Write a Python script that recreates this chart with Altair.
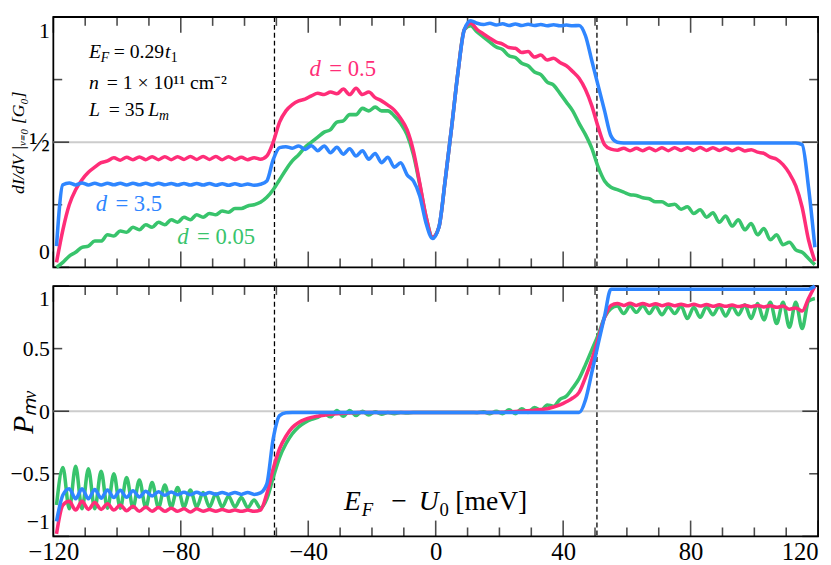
import altair as alt
import pandas as pd

# ---------------- data ----------------
X = list(range(-119, 120, 2))  # E_F - U_0 grid [meV]

TOP_BLUE = [
    0.085, 0.33, 0.337, 0.329, 0.337, 0.329, 0.336, 0.329, 0.336, 0.330,
    0.336, 0.329, 0.336, 0.330, 0.336, 0.329, 0.336, 0.330, 0.335, 0.329,
    0.335, 0.329, 0.335, 0.329, 0.335, 0.328, 0.334, 0.328, 0.334, 0.328,
    0.333, 0.328, 0.332, 0.345, 0.43, 0.478, 0.482, 0.476, 0.485, 0.471,
    0.486, 0.466, 0.485, 0.458, 0.48, 0.452, 0.474, 0.445, 0.466, 0.432,
    0.455, 0.418, 0.44, 0.40, 0.418, 0.37, 0.345, 0.285, 0.175, 0.115,
    0.16, 0.35, 0.56, 0.78, 0.95, 0.985, 0.975, 0.97, 0.975, 0.968,
    0.973, 0.966, 0.972, 0.966, 0.971, 0.966, 0.970, 0.965, 0.969, 0.965,
    0.968, 0.965, 0.966, 0.925, 0.825, 0.725, 0.625, 0.525, 0.50, 0.497,
    0.497, 0.497, 0.497, 0.497, 0.497, 0.497, 0.497, 0.497, 0.497, 0.497,
    0.497, 0.497, 0.497, 0.497, 0.497, 0.497, 0.497, 0.497, 0.497, 0.497,
    0.497, 0.497, 0.497, 0.497, 0.497, 0.497, 0.497, 0.49, 0.32, 0.08,
]
TOP_PINK = [
    0.02, 0.15, 0.25, 0.31, 0.35, 0.38, 0.40, 0.418, 0.425, 0.438,
    0.428, 0.44, 0.43, 0.441, 0.43, 0.442, 0.43, 0.442, 0.43, 0.442,
    0.431, 0.443, 0.431, 0.443, 0.431, 0.443, 0.43, 0.442, 0.43, 0.44,
    0.43, 0.438, 0.432, 0.445, 0.50, 0.58, 0.625, 0.65, 0.665, 0.672,
    0.685, 0.695, 0.69, 0.70, 0.693, 0.712, 0.69, 0.715, 0.69, 0.70,
    0.678, 0.665, 0.648, 0.628, 0.595, 0.55, 0.465, 0.335, 0.20, 0.12,
    0.16, 0.35, 0.56, 0.78, 0.95, 0.975, 0.95, 0.932, 0.915, 0.90,
    0.892, 0.878, 0.875, 0.858, 0.862, 0.84, 0.848, 0.828, 0.835, 0.818,
    0.805, 0.782, 0.755, 0.71, 0.645, 0.56, 0.49, 0.472, 0.468, 0.476,
    0.466, 0.476, 0.466, 0.477, 0.466, 0.478, 0.466, 0.478, 0.467, 0.478,
    0.467, 0.479, 0.467, 0.478, 0.467, 0.477, 0.466, 0.476, 0.465, 0.47,
    0.46, 0.455, 0.44, 0.432, 0.41, 0.375, 0.325, 0.24, 0.11, 0.025,
]
TOP_GREEN = [
    0.0, 0.02, 0.045, 0.06, 0.08, 0.085, 0.105, 0.105, 0.13, 0.125,
    0.145, 0.14, 0.16, 0.15, 0.17, 0.16, 0.18, 0.17, 0.19, 0.18,
    0.20, 0.19, 0.21, 0.20, 0.215, 0.21, 0.225, 0.22, 0.235, 0.235,
    0.245, 0.25, 0.26, 0.28, 0.31, 0.35, 0.39, 0.425, 0.45, 0.48,
    0.50, 0.52, 0.54, 0.55, 0.58, 0.585, 0.61, 0.61, 0.635, 0.625,
    0.64, 0.625, 0.625, 0.605, 0.575, 0.53, 0.45, 0.33, 0.20, 0.12,
    0.16, 0.35, 0.56, 0.78, 0.95, 0.965, 0.94, 0.92, 0.90, 0.88,
    0.87, 0.845, 0.838, 0.815, 0.805, 0.78, 0.77, 0.74, 0.728, 0.695,
    0.66, 0.625, 0.575, 0.53, 0.475, 0.40, 0.345, 0.32, 0.31, 0.30,
    0.29, 0.287, 0.278, 0.274, 0.262, 0.262, 0.248, 0.252, 0.232, 0.242,
    0.215, 0.23, 0.20, 0.218, 0.18, 0.205, 0.165, 0.19, 0.15, 0.175,
    0.13, 0.155, 0.11, 0.13, 0.09, 0.10, 0.07, 0.06, 0.035, 0.01,
]
BOT_BLUE = [
    -0.88, -0.67, -0.62, -0.70, -0.62, -0.70, -0.625, -0.695, -0.63, -0.69,
    -0.632, -0.688, -0.635, -0.685, -0.64, -0.678, -0.643, -0.672, -0.645, -0.668,
    -0.648, -0.668, -0.648, -0.666, -0.65, -0.665, -0.65, -0.665, -0.65, -0.665,
    -0.65, -0.665, -0.652, -0.58, -0.22, -0.035, -0.012, -0.01, -0.01, -0.01,
    -0.01, -0.01, -0.01, -0.01, -0.01, -0.01, -0.01, -0.01, -0.01, -0.01,
    -0.01, -0.01, -0.01, -0.01, -0.01, -0.01, -0.01, -0.01, -0.01, -0.01,
    -0.01, -0.01, -0.01, -0.01, -0.01, -0.01, -0.01, -0.01, -0.01, -0.01,
    -0.01, -0.01, -0.01, -0.01, -0.01, -0.01, -0.01, -0.01, -0.01, -0.01,
    -0.01, -0.01, -0.01, 0.09, 0.31, 0.54, 0.76, 0.975, 0.975, 0.975,
    0.975, 0.975, 0.975, 0.975, 0.975, 0.975, 0.975, 0.975, 0.975, 0.975,
    0.975, 0.975, 0.975, 0.975, 0.975, 0.975, 0.975, 0.975, 0.975, 0.975,
    0.975, 0.975, 0.975, 0.975, 0.975, 0.975, 0.975, 0.975, 0.975, 1.0,
]
BOT_PINK = [
    -0.98, -0.75, -0.72, -0.79, -0.72, -0.785, -0.73, -0.785, -0.74, -0.79,
    -0.75, -0.795, -0.76, -0.80, -0.765, -0.80, -0.77, -0.80, -0.775, -0.80,
    -0.78, -0.805, -0.78, -0.80, -0.785, -0.80, -0.785, -0.80, -0.79, -0.80,
    -0.79, -0.80, -0.79, -0.66, -0.46, -0.30, -0.20, -0.13, -0.09, -0.065,
    -0.05, -0.04, -0.032, -0.025, -0.02, -0.016, -0.014, -0.012, -0.01, -0.01,
    -0.01, -0.01, -0.01, -0.01, -0.01, -0.01, -0.01, -0.01, -0.01, -0.01,
    -0.01, -0.01, -0.01, -0.01, -0.01, -0.01, -0.01, -0.01, -0.01, -0.01,
    -0.008, -0.005, -0.002, 0.0, 0.004, 0.008, 0.013, 0.02, 0.033, 0.05,
    0.075, 0.105, 0.15, 0.27, 0.41, 0.58, 0.75, 0.845, 0.86, 0.845,
    0.862, 0.845, 0.86, 0.845, 0.858, 0.843, 0.856, 0.842, 0.855, 0.842,
    0.854, 0.84, 0.852, 0.838, 0.85, 0.838, 0.848, 0.836, 0.846, 0.835,
    0.845, 0.833, 0.843, 0.83, 0.84, 0.815, 0.825, 0.80, 0.90, 1.0,
]
BOT_GREEN = [
    -0.75, -0.45, -0.78, -0.44, -0.78, -0.46, -0.78, -0.48, -0.775, -0.50,
    -0.775, -0.53, -0.77, -0.55, -0.77, -0.57, -0.77, -0.59, -0.765, -0.61,
    -0.765, -0.63, -0.765, -0.65, -0.765, -0.66, -0.765, -0.68, -0.765, -0.69,
    -0.77, -0.71, -0.775, -0.70, -0.53, -0.37, -0.26, -0.18, -0.125, -0.09,
    -0.065, -0.05, -0.02, -0.045, 0.005, -0.04, 0.005, -0.035, 0.0, -0.03,
    -0.005, -0.025, -0.01, -0.02, -0.01, -0.015, -0.01, -0.01, -0.01, -0.01,
    -0.01, -0.01, -0.01, -0.01, -0.01, -0.01, -0.012, -0.005, -0.02, 0.0,
    -0.02, 0.012, -0.02, 0.02, -0.01, 0.03, 0.005, 0.05, 0.04, 0.095,
    0.12, 0.185, 0.26, 0.37, 0.49, 0.61, 0.75, 0.82, 0.84, 0.78,
    0.84, 0.79, 0.845, 0.78, 0.84, 0.77, 0.835, 0.78, 0.84, 0.74,
    0.83, 0.75, 0.835, 0.77, 0.84, 0.76, 0.84, 0.77, 0.85, 0.74,
    0.86, 0.73, 0.87, 0.70, 0.87, 0.67, 0.87, 0.66, 0.88, 0.90,
]
for s in (TOP_BLUE, TOP_PINK, TOP_GREEN, BOT_BLUE, BOT_PINK, BOT_GREEN):
    assert len(s) == len(X), len(s)

DASH_X = [-50.6, 50.6]
REF_TOP = [0.5]
REF_BOT = [0.0]

X_RANGE = [-120, 120]
YT_RANGE = [0, 1]
YB_RANGE = [-1, 1]
X_MAJOR = [-120, -80, -40, 0, 40, 80, 120]
X_MINOR = [-110, -100, -90, -70, -60, -50, -30, -20, -10, 10, 20, 30, 50, 60, 70, 90, 100, 110]
YT_MAJOR = [0, 0.5, 1]
YT_MINOR = [0.25, 0.75]
YB_MAJOR = [-1, 0, 1]
YB_MINOR = [-0.5, 0.5]
YB_LABELS = [-1, -0.5, 0, 0.5, 1]

# annotation anchors (data coordinates)
INFO_X = -108.8
INFO_Y = [0.837, 0.713, 0.605]
LBL_PINK = (-39.6, 0.764)
LBL_BLUE = (-106.7, 0.225)
LBL_GREEN = (-81.1, 0.093)
XT_ANCHOR = (-28.8, -0.792)

# ---------------- styling ----------------
BLUE, PINK, GREEN = "#2f86ff", "#ff2d78", "#38c46c"
FONT = "Liberation Serif"
MAJ, MIN = 16, 9
W, H = 776, 254

XS = alt.Scale(domain=X_RANGE, nice=False, zero=False)
YS_TOP = alt.Scale(domain=YT_RANGE, nice=False, zero=False)
YS_BOT = alt.Scale(domain=YB_RANGE, nice=False, zero=False)


def line(ys, color, yscale, xaxis=None, yaxis=None):
    df = pd.DataFrame({"x": X, "y": ys})
    return alt.Chart(df).mark_line(color=color, strokeWidth=3.6, interpolate="monotone").encode(
        x=alt.X("x:Q", scale=XS, axis=xaxis),
        y=alt.Y("y:Q", scale=yscale, axis=yaxis),
    )


def piece(x, y, text, size, yscale, dx=0, dy=0, italic=False, color="black"):
    df = pd.DataFrame({"x": [x], "y": [y], "t": [text]})
    return alt.Chart(df).mark_text(
        align="left", baseline="alphabetic", dx=dx, dy=dy, fontSize=size, font=FONT,
        fontStyle="italic" if italic else "normal", color=color
    ).encode(
        x=alt.X("x:Q", scale=XS, axis=None),
        y=alt.Y("y:Q", scale=yscale, axis=None),
        text="t:N",
    )


def xticks(values, edge, size, yscale, inward):
    # vertical tick marks sitting on a horizontal frame edge, pointing inwards
    return alt.Chart(pd.DataFrame({"v": values})).mark_tick(
        orient="vertical", size=size, thickness=1.6, color="black", yOffset=inward * size / 2
    ).encode(
        x=alt.X("v:Q", scale=XS, axis=None),
        y=alt.YDatum(edge, scale=yscale, axis=None),
    )


def yticks(values, edge, size, yscale, inward):
    return alt.Chart(pd.DataFrame({"v": values})).mark_tick(
        orient="horizontal", size=size, thickness=1.6, color="black", xOffset=inward * size / 2
    ).encode(
        y=alt.Y("v:Q", scale=yscale, axis=None),
        x=alt.XDatum(edge, scale=XS, axis=None),
    )


def frame_ticks(yscale, yrange, ymaj, ymin):
    return [
        xticks(X_MAJOR, yrange[0], MAJ, yscale, -1),
        xticks(X_MINOR, yrange[0], MIN, yscale, -1),
        xticks(X_MAJOR, yrange[1], MAJ, yscale, 1),
        xticks(X_MINOR, yrange[1], MIN, yscale, 1),
        yticks(ymaj, X_RANGE[0], MAJ, yscale, 1),
        yticks(ymin, X_RANGE[0], MIN, yscale, 1),
        yticks(ymaj, X_RANGE[1], MAJ, yscale, -1),
        yticks(ymin, X_RANGE[1], MIN, yscale, -1),
    ]


def ref_rule(vals, yscale):
    return alt.Chart(pd.DataFrame({"y": vals})).mark_rule(color="#cccccc", strokeWidth=2).encode(
        y=alt.Y("y:Q", scale=yscale, axis=None))


def dash_rules():
    return alt.Chart(pd.DataFrame({"x": DASH_X})).mark_rule(
        color="black", strokeWidth=1.3, strokeDash=[5, 3]).encode(
        x=alt.X("x:Q", scale=XS, axis=None))


top_yaxis = alt.Axis(
    values=YT_MAJOR, ticks=False, domain=False, grid=False, labelFont=FONT,
    labelFontSize={"condition": {"test": "datum.value == 0.5", "value": 28}, "value": 22},
    labelExpr="datum.value == 0.5 ? '½' : format(datum.value, 'd')",
    labelPadding=4, labelFlush=True, labelFlushOffset=-4, labelColor="black",
    title="dI/dV |ᵥ₌₀ [G₀]", titleFont=FONT, titleFontSize=18, titleFontStyle="italic",
    titleFontWeight="normal", titleColor="black", titleX=-30, titleBaseline="alphabetic")

bot_yaxis = alt.Axis(
    values=YB_LABELS, ticks=False, domain=False, grid=False, labelFont=FONT, labelFontSize=22,
    labelExpr="abs(datum.value) == 0.5 ? format(datum.value, '.1f') : format(datum.value, 'd')",
    labelPadding=4, labelFlush=True, labelFlushOffset=-3, labelColor="black",
    title="Pₘᵥ", titleFont=FONT, titleFontSize=30, titleFontStyle="italic",
    titleFontWeight="normal", titleColor="black", titleX=-21, titleBaseline="alphabetic")

bot_xaxis = alt.Axis(
    values=X_MAJOR, ticks=False, domain=False, grid=False, title=None,
    labelFont=FONT, labelFontSize=25, labelPadding=3, labelFlush=False, format="d",
    labelColor="black",
    labelAlign={"condition": {"test": "datum.value >= 120", "value": "right"}, "value": "center"})

# ---------------- top panel ----------------
top_layers = [ref_rule(REF_TOP, YS_TOP), dash_rules()] + frame_ticks(YS_TOP, YT_RANGE, YT_MAJOR, YT_MINOR) + [
    line(TOP_GREEN, GREEN, YS_TOP, yaxis=top_yaxis),
    line(TOP_PINK, PINK, YS_TOP),
    line(TOP_BLUE, BLUE, YS_TOP),
    piece(INFO_X, INFO_Y[0], "E", 20, YS_TOP, italic=True),
    piece(INFO_X, INFO_Y[0], "F", 14, YS_TOP, dx=12, dy=4, italic=True),
    piece(INFO_X, INFO_Y[0], "= 0.29", 20, YS_TOP, dx=25),
    piece(INFO_X, INFO_Y[0], "t", 20, YS_TOP, dx=77, italic=True),
    piece(INFO_X, INFO_Y[0], "1", 14, YS_TOP, dx=83, dy=4),
    piece(INFO_X, INFO_Y[1], "n", 20, YS_TOP, italic=True),
    piece(INFO_X, INFO_Y[1], "= 1 × 10¹¹ cm⁻²", 20, YS_TOP, dx=18),
    piece(INFO_X, INFO_Y[2], "L", 20, YS_TOP, italic=True),
    piece(INFO_X, INFO_Y[2], "= 35", 20, YS_TOP, dx=20),
    piece(INFO_X, INFO_Y[2], "L", 20, YS_TOP, dx=60, italic=True),
    piece(INFO_X, INFO_Y[2], "m", 14, YS_TOP, dx=71, dy=4, italic=True),
    piece(LBL_PINK[0], LBL_PINK[1], "d", 23, YS_TOP, italic=True, color=PINK),
    piece(LBL_PINK[0], LBL_PINK[1], "= 0.5", 23, YS_TOP, dx=20, color=PINK),
    piece(LBL_BLUE[0], LBL_BLUE[1], "d", 23, YS_TOP, italic=True, color=BLUE),
    piece(LBL_BLUE[0], LBL_BLUE[1], "= 3.5", 23, YS_TOP, dx=20, color=BLUE),
    piece(LBL_GREEN[0], LBL_GREEN[1], "d", 23, YS_TOP, italic=True, color=GREEN),
    piece(LBL_GREEN[0], LBL_GREEN[1], "= 0.05", 23, YS_TOP, dx=20, color=GREEN),
]
top = alt.layer(*top_layers).resolve_axis(x="independent", y="independent").properties(width=W, height=H)

# ---------------- bottom panel ----------------
bot_layers = [ref_rule(REF_BOT, YS_BOT), dash_rules()] + frame_ticks(YS_BOT, YB_RANGE, YB_MAJOR, YB_MINOR) + [
    line(BOT_GREEN, GREEN, YS_BOT, xaxis=bot_xaxis, yaxis=bot_yaxis),
    line(BOT_PINK, PINK, YS_BOT),
    line(BOT_BLUE, BLUE, YS_BOT),
    piece(XT_ANCHOR[0], XT_ANCHOR[1], "E", 28, YS_BOT, italic=True),
    piece(XT_ANCHOR[0], XT_ANCHOR[1], "F", 19, YS_BOT, dx=18, dy=6, italic=True),
    piece(XT_ANCHOR[0], XT_ANCHOR[1], "−", 28, YS_BOT, dx=48),
    piece(XT_ANCHOR[0], XT_ANCHOR[1], "U", 28, YS_BOT, dx=76, italic=True),
    piece(XT_ANCHOR[0], XT_ANCHOR[1], "0", 19, YS_BOT, dx=97, dy=6),
    piece(XT_ANCHOR[0], XT_ANCHOR[1], "[meV]", 28, YS_BOT, dx=113),
]
bottom = alt.layer(*bot_layers).resolve_axis(x="independent", y="independent").properties(width=W, height=H)

chart = alt.vconcat(top, bottom, spacing=19, bounds="flush").properties(padding=0).configure_view(
    stroke="black", strokeWidth=1.8
).configure_axis(labelFont=FONT, titleFont=FONT)

chart.save("out.html", embed_options={"renderer": "svg", "actions": False})
